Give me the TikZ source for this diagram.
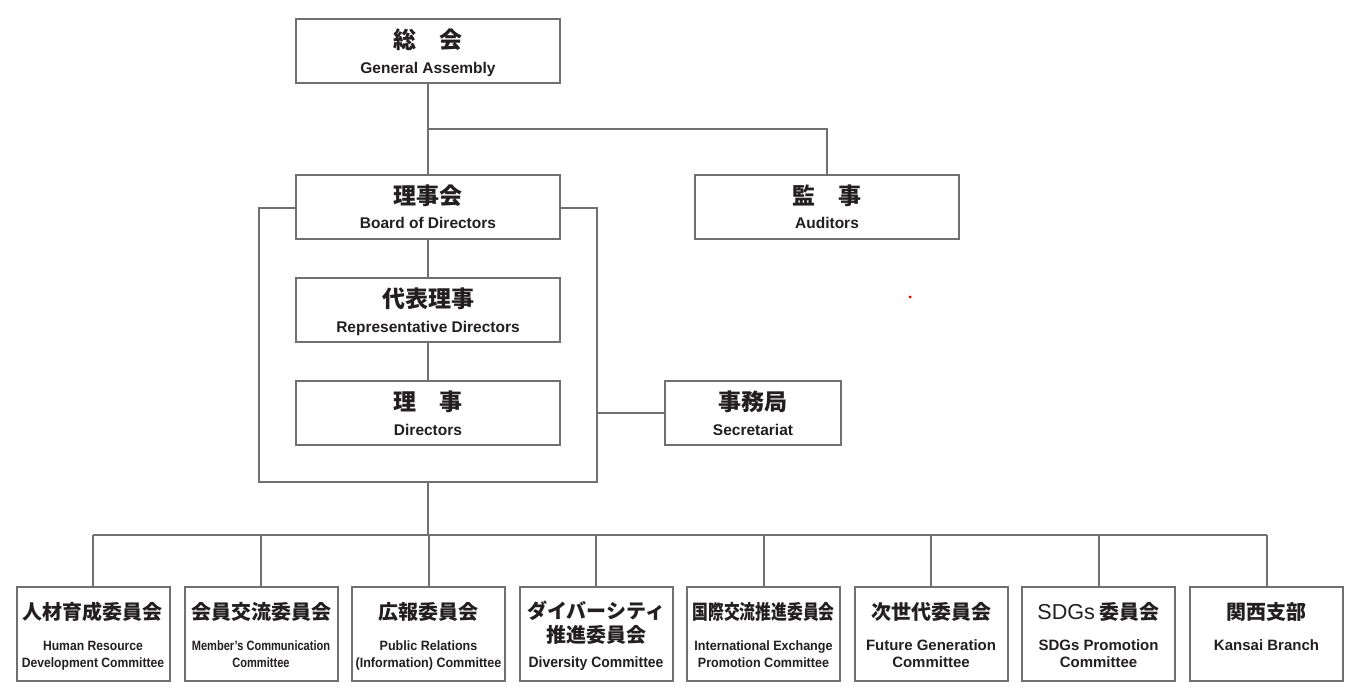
\documentclass[tikz,border=0pt]{standalone}
\usepackage{fontspec}
\usepackage{graphicx}
\setmainfont{Liberation Sans}
\newfontfamily\jp{Noto Sans CJK JP}
\definecolor{ln}{HTML}{707073}
\definecolor{tx}{HTML}{231F20}
\newcommand{\cx}[2]{\scalebox{#1}[1]{#2}}
\begin{document}
\begin{tikzpicture}[x=1pt,y=-1pt,
 box/.style={draw=ln,line width=2pt,fill=white,inner sep=0pt},
 topbox/.style={box,minimum width=264pt,minimum height=64pt},
 botbox/.style={box,minimum width=153pt,minimum height=94pt},
 wire/.style={draw=ln,line width=2pt},
 jt/.style={font=\jp\bfseries\fontsize{23}{26}\selectfont,text=tx,inner sep=0pt},
 et/.style={font=\bfseries\fontsize{15.5}{18}\selectfont,text=tx,inner sep=0pt,anchor=base},
 jb/.style={font=\jp\bfseries\fontsize{20}{23}\selectfont,text=tx,inner sep=0pt},
 eb/.style={font=\bfseries\fontsize{13.5}{17}\selectfont,text=tx,inner sep=0pt,anchor=base},
 ebw/.style={font=\bfseries\fontsize{15}{17}\selectfont,text=tx,inner sep=0pt,anchor=base},
]
\useasboundingbox (0,0) rectangle (1355,687);

% frame round the board group
\node[box,minimum width=338pt,minimum height=274pt] (fr) at (428,345) {};

% upper boxes
\node[topbox] (ga) at (428,51) {};
\node[topbox] (bd) at (428,207) {};
\node[topbox] (au) at (827,207) {};
\node[topbox] (rd) at (428,310) {};
\node[topbox] (dr) at (428,413) {};
\node[box,minimum width=176pt,minimum height=64pt] (se) at (753,413) {};

% connectors
\coordinate (j1) at (428,129);
\coordinate (bus) at (428,535);
\draw[wire] (ga.south) -- (bd.north);
\draw[wire] (j1) -| (au.north);
\draw[wire] (bd.south) -- (rd.north);
\draw[wire] (rd.south) -- (dr.north);
\draw[wire] (se.west -| fr.east) -- (se.west);
\draw[wire] (fr.south) -- (bus);

% bottom boxes
\node[botbox] (c1) at (93,634) {};
\node[botbox] (c2) at (261,634) {};
\node[botbox] (c3) at (428.5,634) {};
\node[botbox] (c4) at (596,634) {};
\node[botbox] (c5) at (763.5,634) {};
\node[botbox] (c6) at (931,634) {};
\node[botbox] (c7) at (1098.5,634) {};
\node[botbox] (c8) at (1266.5,634) {};
\draw[wire] (c1.north |- bus) -- (c8.north |- bus);
\foreach \i in {1,...,8} {\draw[wire] (c\i.north |- bus) -- (c\i.north);}

% upper texts
\node[jt] (gaj) at (428,40) {総　会};
\node[et] (gae) at (428,74) {General Assembly};
\node[jt] (bdj) at (428,196) {理事会};
\node[et] (bde) at (428,229) {Board of Directors};
\node[jt] (auj) at (827,196) {監　事};
\node[et] (aue) at (827,229) {Auditors};
\node[jt] (rdj) at (428,299) {代表理事};
\node[et] (rde) at (428,332) {Representative Directors};
\node[jt] (drj) at (428,402) {理　事};
\node[et] (dre) at (428,435) {Directors};
\node[jt] (sej) at (753,402) {事務局};
\node[et] (see) at (753,435) {Secretariat};

% bottom texts
\node[jb] (c1j) at (93,612) {人材育成委員会};
\node[eb] (c1a) at (93,650) {\cx{0.9}{Human Resource}};
\node[eb] (c1b) at (93,667) {\cx{0.9}{Development Committee}};
\node[jb] (c2j) at (261,612) {会員交流委員会};
\node[eb] (c2a) at (261,650) {\cx{0.82}{Member's Communication}};
\node[eb] (c2b) at (261,667) {\cx{0.82}{Committee}};
\node[jb] (c3j) at (428.5,612) {広報委員会};
\node[eb] (c3a) at (428.5,650) {\cx{0.93}{Public Relations}};
\node[eb] (c3b) at (428.5,667) {\cx{0.93}{(Information) Committee}};
\node[jb] (c4j) at (596,611) {ダイバーシティ};
\node[jb] (c4k) at (596,635) {推進委員会};
\node[ebw] (c4a) at (596,667) {\cx{0.93}{Diversity Committee}};
\node[jb] (c5j) at (763.5,612) {\cx{0.79}{国際交流推進委員会}};
\node[eb] (c5a) at (763.5,650) {\cx{0.93}{International Exchange}};
\node[eb] (c5b) at (763.5,667) {\cx{0.93}{Promotion Committee}};
\node[jb] (c6j) at (931,612) {次世代委員会};
\node[ebw] (c6a) at (931,650) {Future Generation};
\node[ebw] (c6b) at (931,667) {Committee};
\node[jb] (c7j) at (1098.5,612) {{\fontspec{Liberation Sans}[Scale=1.08]\mdseries SDGs} 委員会};
\node[ebw] (c7a) at (1098.5,650) {SDGs Promotion};
\node[ebw] (c7b) at (1098.5,667) {Committee};
\node[jb] (c8j) at (1266.5,612) {関西支部};
\node[ebw] (c8a) at (1266.5,650) {Kansai Branch};

% stray red dot
\fill[red] (910,297) circle (1.6pt);
\end{tikzpicture}
\end{document}
